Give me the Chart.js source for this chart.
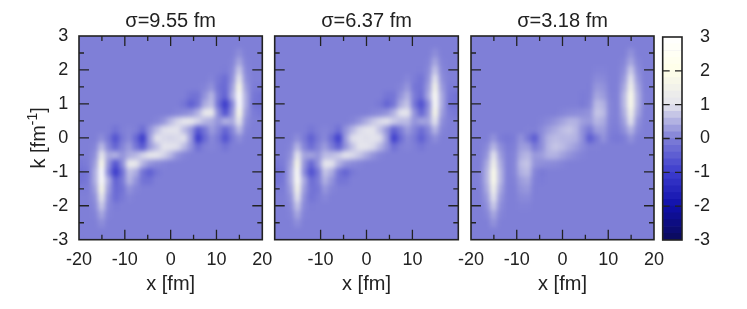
<!DOCTYPE html>
<html>
<head>
<meta charset="utf-8">
<style>
  html, body { margin: 0; padding: 0; background: #fff; }
  canvas { position: absolute; left: 0; top: 0; }
</style>
<script src="https://cdn.jsdelivr.net/npm/chart.js@4"></script>
</head>
<body>
<canvas id="p1" width="747" height="309"></canvas>
<canvas id="p2" width="747" height="309"></canvas>
<canvas id="p3" width="747" height="309"></canvas>
<canvas id="bar" width="747" height="309"></canvas>
<script>
// grid
const xCells = [-19.5,-18,-16.5,-15,-13.5,-12,-10.5,-9,-7.5,-6,-4.5,-3,-1.5,0,1.5,3,4.5,6,7.5,9,10.5,12,13.5,15,16.5,18,19.5];
const kCells = [2.5,2.25,2,1.75,1.5,1.25,1,.75,.5,.25,0,-.25,-.5,-.75,-1,-1.25,-1.5,-1.75,-2,-2.25,-2.5];

const sigma955 = [
[0,0,0,0,0,0,0,0,0,0,0,0,0,0,0,0,0,0,0,0,0,0,0,.15,0,0,0],
[0,0,0,0,0,0,0,0,0,0,0,0,0,0,0,0,0,0,0,0,0,0,.03,.4,.03,0,0],
[0,0,0,0,0,0,0,0,0,0,0,0,0,0,0,0,0,0,0,0,0,-.05,.08,.75,.08,0,0],
[0,0,0,0,0,0,0,0,0,0,0,0,0,0,0,0,0,0,0,.05,-.1,-.3,.15,1.2,.15,0,0],
[0,0,0,0,0,0,0,0,0,0,0,0,0,0,0,0,0,0,.05,.2,-.2,-.35,.3,1.9,.3,-.05,-.05],
[0,0,0,0,0,0,0,0,0,0,0,0,0,0,0,0,-.2,-.2,.2,.55,-.1,-.45,.45,2.8,.45,-.1,-.2],
[0,0,0,0,0,0,0,0,0,0,0,0,0,0,0,-.15,-.5,-.2,.45,.65,-.25,-1.1,.05,2.9,.45,-.15,-.2],
[0,0,0,0,0,0,0,0,0,0,0,0,0,0,.05,.1,.2,.5,1.2,1.3,.1,-.7,.2,2.1,.3,-.05,-.1],
[0,0,0,0,0,0,0,0,0,0,0,.05,.2,.55,.85,1.1,1.15,.85,.55,.45,.2,.5,.4,1.2,.15,0,0],
[0,0,0,0,0,-.2,0,.05,0,-.3,.2,.6,.95,1,1,.6,.25,-.6,-.15,.3,.05,-.4,.05,.6,.05,0,0],
[0,0,0,.15,-.1,-.7,-.1,.1,-.35,-1.1,.3,1,.9,.85,.9,1,.3,-1.1,-.35,.1,-.1,-.7,-.1,.15,0,0,0],
[0,0,.05,.6,.05,-.4,.05,.3,-.15,-.6,.25,.6,1,1,.95,.6,.2,-.3,0,.05,0,-.2,0,0,0,0,0],
[0,0,.15,1.2,.4,.5,.2,.45,.55,.85,1.15,1.1,.85,.55,.2,.05,0,0,0,0,0,0,0,0,0,0,0],
[-.1,-.05,.3,2.1,.2,-.7,.1,1.3,1.2,.5,.2,.1,.05,0,0,0,0,0,0,0,0,0,0,0,0,0,0],
[-.2,-.15,.45,2.9,.05,-1.1,-.25,.65,.45,-.2,-.5,-.15,0,0,0,0,0,0,0,0,0,0,0,0,0,0,0],
[-.2,-.1,.45,2.8,.45,-.45,-.1,.55,.2,-.2,-.2,0,0,0,0,0,0,0,0,0,0,0,0,0,0,0,0],
[-.05,-.05,.3,1.9,.3,-.35,-.2,.2,.05,0,0,0,0,0,0,0,0,0,0,0,0,0,0,0,0,0,0],
[0,0,.15,1.2,.15,-.3,-.1,.05,0,0,0,0,0,0,0,0,0,0,0,0,0,0,0,0,0,0,0],
[0,0,.08,.75,.08,-.05,0,0,0,0,0,0,0,0,0,0,0,0,0,0,0,0,0,0,0,0,0],
[0,0,.03,.4,.03,0,0,0,0,0,0,0,0,0,0,0,0,0,0,0,0,0,0,0,0,0,0],
[0,0,0,.15,0,0,0,0,0,0,0,0,0,0,0,0,0,0,0,0,0,0,0,0,0,0,0]
];

const sigma637 = [
[0,0,0,0,0,0,0,0,0,0,0,0,0,0,0,0,0,0,0,0,0,0,0,.15,0,0,0],
[0,0,0,0,0,0,0,0,0,0,0,0,0,0,0,0,0,0,0,0,0,0,.03,.4,.03,0,0],
[0,0,0,0,0,0,0,0,0,0,0,0,0,0,0,0,0,0,0,0,0,-.03,.08,.7,.08,0,0],
[0,0,0,0,0,0,0,0,0,0,0,0,0,0,0,0,0,0,0,.08,-.05,-.2,.15,1.1,.15,0,0],
[0,0,0,0,0,0,0,0,0,0,0,0,0,0,0,0,0,0,.05,.25,-.15,-.2,.28,1.7,.28,-.05,-.05],
[0,0,0,0,0,0,0,0,0,0,0,0,0,0,0,0,-.15,-.15,.2,.5,-.05,-.3,.42,2.5,.42,-.1,-.2],
[0,0,0,0,0,0,0,0,0,0,0,0,0,0,0,-.1,-.4,-.15,.45,.7,-.15,-.75,.1,2.6,.42,-.15,-.2],
[0,0,0,0,0,0,0,0,0,0,0,0,0,0,.05,.1,.2,.5,1,1.1,.2,-.4,.2,1.9,.3,-.05,-.1],
[0,0,0,0,0,0,0,0,0,0,0,.05,.2,.45,.7,.9,1,.75,.6,.6,.2,.35,.35,1.1,.15,0,0],
[0,0,0,0,0,-.15,0,.05,0,-.25,.2,.55,.9,1.05,1.05,.65,.2,-.5,-.05,.3,.05,-.3,.05,.55,.05,0,0],
[0,0,0,.15,-.08,-.5,-.08,.1,-.3,-1,.3,.95,1,.95,1,.95,.3,-1,-.3,.1,-.08,-.5,-.08,.15,0,0,0],
[0,0,.05,.55,.05,-.3,.05,.3,-.05,-.5,.2,.65,1.05,1.05,.9,.55,.2,-.25,0,.05,0,-.15,0,0,0,0,0],
[0,0,.15,1.1,.35,.35,.2,.6,.6,.75,1,.9,.7,.45,.2,.05,0,0,0,0,0,0,0,0,0,0,0],
[-.1,-.05,.3,1.9,.2,-.4,.2,1.1,1,.5,.2,.1,.05,0,0,0,0,0,0,0,0,0,0,0,0,0,0],
[-.2,-.15,.42,2.6,.1,-.75,-.15,.7,.45,-.15,-.4,-.1,0,0,0,0,0,0,0,0,0,0,0,0,0,0,0],
[-.2,-.1,.42,2.5,.42,-.3,-.05,.5,.2,-.15,-.15,0,0,0,0,0,0,0,0,0,0,0,0,0,0,0,0],
[-.05,-.05,.28,1.7,.28,-.2,-.15,.25,.05,0,0,0,0,0,0,0,0,0,0,0,0,0,0,0,0,0,0],
[0,0,.15,1.1,.15,-.2,-.05,.08,0,0,0,0,0,0,0,0,0,0,0,0,0,0,0,0,0,0,0],
[0,0,.08,.7,.08,-.03,0,0,0,0,0,0,0,0,0,0,0,0,0,0,0,0,0,0,0,0,0],
[0,0,.03,.4,.03,0,0,0,0,0,0,0,0,0,0,0,0,0,0,0,0,0,0,0,0,0,0],
[0,0,0,.15,0,0,0,0,0,0,0,0,0,0,0,0,0,0,0,0,0,0,0,0,0,0,0]
];

const sigma318 = [
[0,0,0,0,0,0,0,0,0,0,0,0,0,0,0,0,0,0,0,0,0,0,0,.2,0,0,0],
[0,0,0,0,0,0,0,0,0,0,0,0,0,0,0,0,0,0,0,0,0,0,.06,.4,.06,0,0],
[0,0,0,0,0,0,0,0,0,0,0,0,0,0,0,0,0,0,.03,.03,0,0,.14,.75,.14,0,0],
[0,0,0,0,0,0,0,0,0,0,0,0,0,0,0,0,0,0,.12,.1,0,0,.25,1.1,.25,0,0],
[0,0,0,0,0,0,0,0,0,0,0,0,0,0,0,0,0,-.02,.25,.2,0,0,.4,1.6,.4,0,0],
[0,0,0,0,0,0,0,0,0,0,0,0,0,0,0,0,-.05,0,.4,.3,.02,0,.55,2.1,.5,.02,0],
[0,0,0,0,0,0,0,0,0,0,0,0,0,0,0,0,-.08,.05,.6,.5,.05,0,.55,2.1,.5,.02,0],
[0,0,0,0,0,0,0,0,0,0,0,0,0,.05,.1,.12,.15,.2,.7,.6,.05,0,.45,1.6,.4,0,0],
[0,0,0,0,0,0,0,0,0,0,.03,.1,.2,.35,.5,.5,.3,.25,.55,.45,.03,0,.3,1.1,.2,0,0],
[0,0,0,0,0,0,0,0,.02,0,.12,.3,.45,.6,.7,.55,.15,-.1,.3,.3,0,-.05,.15,.55,.1,0,0],
[0,0,0,.2,-.05,-.12,-.05,.2,-.1,-.55,.15,.5,.6,.55,.55,.5,.15,-.55,-.1,.2,-.05,-.12,-.05,.2,0,0,0],
[0,0,.1,.55,.15,-.05,0,.3,.3,-.1,.15,.55,.7,.6,.45,.3,.12,0,.02,0,0,0,0,0,0,0,0],
[0,0,.2,1.1,.3,0,.03,.45,.55,.25,.3,.5,.5,.35,.2,.1,.03,0,0,0,0,0,0,0,0,0,0],
[0,0,.4,1.6,.45,0,.05,.6,.7,.2,.15,.12,.1,.05,0,0,0,0,0,0,0,0,0,0,0,0,0],
[0,.02,.5,2.1,.55,0,.05,.5,.6,.05,-.08,0,0,0,0,0,0,0,0,0,0,0,0,0,0,0,0],
[0,.02,.5,2.1,.55,0,.02,.3,.4,0,-.05,0,0,0,0,0,0,0,0,0,0,0,0,0,0,0,0],
[0,0,.4,1.6,.4,0,0,.2,.25,-.02,0,0,0,0,0,0,0,0,0,0,0,0,0,0,0,0,0],
[0,0,.25,1.1,.25,0,0,.1,.12,0,0,0,0,0,0,0,0,0,0,0,0,0,0,0,0,0,0],
[0,0,.14,.75,.14,0,0,.03,.03,0,0,0,0,0,0,0,0,0,0,0,0,0,0,0,0,0,0],
[0,0,.06,.4,.06,0,0,0,0,0,0,0,0,0,0,0,0,0,0,0,0,0,0,0,0,0,0],
[0,0,0,.2,0,0,0,0,0,0,0,0,0,0,0,0,0,0,0,0,0,0,0,0,0,0,0]
];

const paletteStops = [
  [-3, 10, 10, 90], [-2, 16, 16, 170], [-1, 60, 60, 205], [0, 127, 127, 215],
  [1, 228, 228, 236], [2, 255, 255, 232], [3, 255, 255, 255]
];
const barLevels = [-2.9,-2.7,-2.5,-2.3,-2.1,-1.9,-1.7,-1.5,-1.3,-1.1,-.9,-.7,-.5,-.3,-.1,.1,.3,.5,.7,.9,1.1,1.3,1.5,1.7,1.9,2.1,2.3,2.5,2.7,2.9];
const xTickLabels = [-20,-10,0,10,20];
const fontFamily = '"Liberation Sans", Arial, sans-serif';
const ink = '#222';

function colorFor(v) {
  for (let i = 1; i < paletteStops.length; i++) {
    const a = paletteStops[i - 1], b = paletteStops[i];
    if (v <= b[0]) {
      const t = Math.max(0, (v - a[0]) / (b[0] - a[0]));
      return `rgb(${[1, 2, 3].map(c => Math.round(a[c] + (b[c] - a[c]) * t)).join(',')})`;
    }
  }
  return 'rgb(255,255,255)';
}

function rowDatasets(matrix) {
  return matrix.map((row, r) => ({
    type: 'bar',
    grouped: false,
    barPercentage: 1,
    categoryPercentage: 1,
    data: row.map((v, c) => ({ x: xCells[c], y: [kCells[r] - .125, kCells[r] + .125] })),
    backgroundColor: row.map(colorFor),
    borderWidth: 0
  }));
}

// plot fill under the cells, soft pm3d look over them, gnuplot style frame and inward ticks
const heatLook = {
  id: 'heatLook',
  beforeDatasetsDraw(chart) {
    const a = chart.chartArea, ctx = chart.ctx;
    ctx.save();
    ctx.fillStyle = colorFor(0);
    ctx.fillRect(a.left, a.top, a.width, a.height);
    ctx.restore();
  },
  afterDatasetsDraw(chart, args, opts) {
    if (!opts.blur) return;
    const a = chart.chartArea, ctx = chart.ctx;
    ctx.save();
    ctx.beginPath();
    ctx.rect(a.left, a.top, a.width, a.height);
    ctx.clip();
    ctx.filter = `blur(${opts.blur}px)`;
    ctx.drawImage(chart.canvas, a.left, a.top, a.width, a.height, a.left, a.top, a.width, a.height);
    ctx.restore();
  },
  afterDraw(chart, args, opts) {
    const a = chart.chartArea, ctx = chart.ctx, sx = chart.scales.x, sy = chart.scales.y;
    ctx.save();
    ctx.strokeStyle = ink;
    ctx.lineWidth = 1.3;
    ctx.beginPath();
    const tick = (x0, y0, x1, y1) => { ctx.moveTo(x0, y0); ctx.lineTo(x1, y1); };
    const vTicks = (list, len) => list.forEach(v => {
      const x = sx.getPixelForValue(v);
      tick(x, a.bottom, x, a.bottom - len);
      tick(x, a.top, x, a.top + len);
    });
    const hTicks = (list, len) => list.forEach(v => {
      const y = sy.getPixelForValue(v);
      tick(a.left, y, a.left + len, y);
      tick(a.right, y, a.right - len, y);
    });
    vTicks(opts.xMajor, 10);
    vTicks(opts.xMinor, 5);
    hTicks(opts.yMajor, opts.yLen);
    hTicks(opts.yMinor, 5);
    ctx.stroke();
    ctx.lineWidth = 1.6;
    ctx.strokeRect(a.left, a.top, a.width, a.height);
    ctx.restore();
  }
};

// axis title with a true superscript, chart title options can't do that
const kLabel = {
  id: 'kLabel',
  afterDraw(chart) {
    const ctx = chart.ctx, a = chart.chartArea;
    const big = `20px ${fontFamily}`, small = `14px ${fontFamily}`;
    ctx.save();
    ctx.fillStyle = ink;
    ctx.textBaseline = 'alphabetic';
    ctx.font = big;
    const w1 = ctx.measureText('k [fm').width, w3 = ctx.measureText(']').width;
    ctx.font = small;
    const w2 = ctx.measureText('-1').width;
    ctx.translate(45, (a.top + a.bottom) / 2 + (w1 + w2 + w3) / 2);
    ctx.rotate(-Math.PI / 2);
    ctx.font = big;
    ctx.fillText('k [fm', 0, 0);
    ctx.fillText(']', w1 + w2, 0);
    ctx.font = small;
    ctx.fillText('-1', w1, -8);
    ctx.restore();
  }
};

function makePanel(id, title, matrix, box, xShown, xMinor, showY) {
  new Chart(document.getElementById(id), {
    type: 'bar',
    data: { datasets: rowDatasets(matrix) },
    plugins: showY ? [heatLook, kLabel] : [heatLook],
    options: {
      responsive: false,
      animation: false,
      events: [],
      layout: { padding: { left: box.left - box.yw, right: 747 - box.right, top: 9, bottom: 13 } },
      plugins: {
        legend: { display: false },
        tooltip: { enabled: false },
        title: {
          display: true, text: title, fullSize: false, color: ink,
          font: { family: fontFamily, size: 20, weight: 'normal', lineHeight: 1.2 },
          padding: { top: 0, bottom: 3 }
        },
        heatLook: {
          blur: 2.5, xMajor: [-10, 0, 10], xMinor: xMinor, yLen: 10,
          yMajor: [-2, -1, 0, 1, 2], yMinor: [-2.5, -1.5, -.5, .5, 1.5, 2.5]
        }
      },
      scales: {
        x: {
          type: 'linear', min: -20, max: 20, offset: false,
          grid: { display: false }, border: { display: false },
          afterFit(s) { s.height = 56.3; },
          ticks: {
            stepSize: 10, color: ink, padding: 2, maxRotation: 0,
            font: { family: fontFamily, size: 18 },
            callback: v => xShown.includes(v) ? String(v) : ''
          },
          title: { display: true, text: 'x [fm]', color: ink, padding: 0, font: { family: fontFamily, size: 20 } }
        },
        y: {
          min: -3, max: 3,
          grid: { display: false }, border: { display: false },
          afterFit(s) { s.width = box.yw; },
          ticks: {
            display: showY, stepSize: 1, color: ink, padding: 2.7,
            font: { family: fontFamily, size: 18 }
          }
        }
      }
    }
  });
}

makePanel('p1', 'σ=9.55 fm', sigma955, { left: 79, right: 262.3, yw: 52 }, xTickLabels, [-15, -5, 5, 15], true);
makePanel('p2', 'σ=6.37 fm', sigma637, { left: 274.7, right: 458.3, yw: 0 }, [-10, 0, 10], [-5, 5], false);
makePanel('p3', 'σ=3.18 fm', sigma318, { left: 471, right: 654, yw: 0 }, xTickLabels, [-15, -5, 5, 15], false);

new Chart(document.getElementById('bar'), {
  type: 'bar',
  data: {
    labels: [''],
    datasets: barLevels.map(v => ({
      grouped: false, barPercentage: 1, categoryPercentage: 1, borderWidth: 0,
      data: [[v - .1, v + .1]], backgroundColor: colorFor(v)
    }))
  },
  plugins: [heatLook],
  options: {
    responsive: false,
    animation: false,
    events: [],
    layout: { padding: { left: 662.7, right: 37, top: 37, bottom: 69 } },
    plugins: {
      legend: { display: false },
      tooltip: { enabled: false },
      heatLook: { blur: 0, xMajor: [], xMinor: [], yLen: 7, yMajor: [-2, -1, 0, 1, 2], yMinor: [] }
    },
    scales: {
      x: { display: false, offset: true },
      y: {
        position: 'right', min: -3, max: 3,
        grid: { display: false }, border: { display: false },
        afterFit(s) { s.width = 28; },
        ticks: { stepSize: 1, color: ink, padding: 0, crossAlign: 'far', font: { family: fontFamily, size: 18 } }
      }
    }
  }
});
</script>
</body>
</html>
